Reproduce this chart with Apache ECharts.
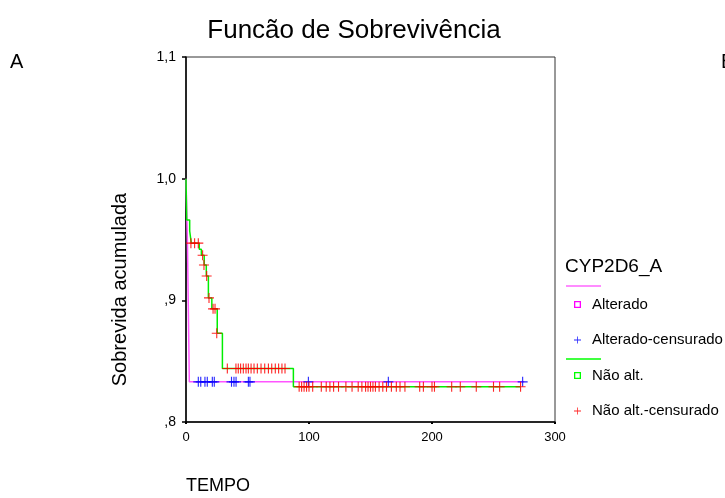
<!DOCTYPE html>
<html>
<head>
<meta charset="utf-8">
<script src="https://cdn.jsdelivr.net/npm/echarts@6/dist/echarts.min.js"></script>
<style>
  html, body { margin: 0; padding: 0; background: #fff; }
  #chart { width: 725px; height: 498px; }
</style>
</head>
<body>
<div id="chart"></div>
<script>
// curvas de Kaplan-Meier (tempo, sobrevida)
var alteradoTempo = [0, 1.2, 2.7, 275];
var alteradoSobrev = [1.0, 0.946, 0.833, 0.833];
var alteradoCensTempo = [10, 12, 15.4, 17.3, 21.4, 23, 37, 39, 40.7, 50.7, 52, 99.5, 164.5, 273.7];
var alteradoCensSobrev = 0.833;

var naoAltTempo = [0, 0.6, 3.0, 4.3, 10.8, 12.5, 14.8, 16.5, 18.2, 21, 25.4, 29.6, 87.3, 272];
var naoAltSobrev = [1.0, 0.966, 0.957, 0.947, 0.942, 0.937, 0.929, 0.920, 0.902, 0.893, 0.873, 0.844, 0.829, 0.829];

// censurados do grupo "Não alt." (inicio, patamar ,844 e patamar ,829)
var naoAltCens1Tempo = [4, 7, 10, 13.5, 14.6, 16.8, 18.7, 22, 23.6, 25];
var naoAltCens1Sobrev = [0.947, 0.947, 0.947, 0.937, 0.929, 0.920, 0.902, 0.893, 0.893, 0.873];
var naoAltCens2Tempo = [33.6, 40.6, 42.5, 44.4, 46.6, 48.8, 50.7, 52.9, 55.3, 58, 61, 64, 67, 69.7, 72.6, 75.3, 78, 80.5];
var naoAltCens2Sobrev = 0.844;
var naoAltCens3Tempo = [92, 94, 96, 98, 100, 103, 110, 114, 117, 120, 124, 130, 135, 140, 143, 146, 148, 150, 152, 154,
  157, 160, 163, 167, 171, 174, 178, 190, 193, 200, 202, 216, 223, 236, 250, 255, 272];
var naoAltCens3Sobrev = 0.829;

var yTicks = [0.8, 0.9, 1.0, 1.1];
var xTicks = [0, 100, 200, 300];

var fonte = 'Arial, "Liberation Sans", sans-serif';
var cruz = 'path://M4,0H5V4H9V5H5V9H4V5H0V4H4Z';
var quadrado = 'path://M0,0H7V7H0Z M1.3,1.3V5.7H5.7V1.3Z';

function pares(ts, ys) {
  return ts.map(function (t, i) {
    return [t, Array.isArray(ys) ? ys[i] : ys];
  });
}

var chart = echarts.init(document.getElementById('chart'));
var option = {
  backgroundColor: '#fff',
  animation: false,
  textStyle: { fontFamily: fonte },
  title: [
    { text: 'Funcão de Sobrevivência', left: 349, top: 13, textAlign: 'center',
      textStyle: { fontFamily: fonte, fontSize: 26, fontWeight: 'normal', color: '#000' } },
    { text: 'A', left: 5, top: 47, textStyle: { fontFamily: fonte, fontSize: 20, fontWeight: 'normal', color: '#000' } },
    { text: 'B', left: 716, top: 47, textStyle: { fontFamily: fonte, fontSize: 20, fontWeight: 'normal', color: '#000' } },
    { text: 'TEMPO', left: 181, top: 472, textStyle: { fontFamily: fonte, fontSize: 18, fontWeight: 'normal', color: '#000' } },
    { text: 'CYP2D6_A', left: 560, top: 252, textStyle: { fontFamily: fonte, fontSize: 19, fontWeight: 'normal', color: '#000' } }
  ],
  graphic: [
    { type: 'line', shape: { x1: 566, y1: 286, x2: 601, y2: 286 }, style: { stroke: '#ff66ff', lineWidth: 1.5 } },
    { type: 'line', shape: { x1: 566, y1: 359, x2: 601, y2: 359 }, style: { stroke: '#00ff00', lineWidth: 1.5 } }
  ],
  legend: {
    orient: 'vertical',
    left: 574,
    top: 297,
    padding: 0,
    itemWidth: 7,
    itemHeight: 7,
    itemGap: 20.5,
    textStyle: { fontFamily: fonte, fontSize: 15, color: '#000', padding: [0, 0, 0, 6] },
    data: [
      { name: 'Alterado', icon: quadrado, itemStyle: { color: '#ff00ff' } },
      { name: 'Alterado-censurado', icon: cruz, itemStyle: { color: '#0000ff' } },
      { name: 'Não alt.', icon: quadrado, itemStyle: { color: '#00ff00' } },
      { name: 'Não alt.-censurado', icon: cruz, itemStyle: { color: '#ff0000' } }
    ]
  },
  grid: {
    left: 186, top: 57, right: 170, bottom: 76,
    show: true, borderColor: '#333', borderWidth: 1
  },
  xAxis: {
    type: 'value',
    min: xTicks[0], max: xTicks[xTicks.length - 1], interval: 100,
    splitLine: { show: false },
    axisLine: { lineStyle: { color: '#000', width: 1.5 } },
    axisTick: { length: 2, lineStyle: { color: '#000', width: 2 } },
    axisLabel: { color: '#000', fontSize: 13, margin: 9, fontFamily: fonte }
  },
  yAxis: {
    type: 'value',
    min: yTicks[0], max: yTicks[yTicks.length - 1], interval: 0.1,
    name: 'Sobrevida acumulada',
    nameLocation: 'middle',
    nameGap: 56,
    nameTextStyle: { color: '#000', fontSize: 20, fontFamily: fonte, padding: [0, 100, 0, 0] },
    splitLine: { show: false },
    axisLine: { show: true, lineStyle: { color: '#000', width: 1.5 } },
    axisTick: { show: true, length: 4, lineStyle: { color: '#000', width: 1.5 } },
    axisLabel: {
      color: '#000', fontSize: 14, margin: 10, fontFamily: fonte,
      formatter: function (v) { return v.toFixed(1).replace('.', ',').replace(/^0/, ''); }
    }
  },
  series: [
    {
      name: 'Alterado', type: 'line', step: 'end', symbol: 'none',
      lineStyle: { color: '#ff55ff', width: 1.5 }, itemStyle: { color: '#ff00ff' },
      data: pares(alteradoTempo, alteradoSobrev), z: 2
    },
    {
      name: 'Não alt.', type: 'line', step: 'end', symbol: 'none',
      lineStyle: { color: '#00ee00', width: 1.5 }, itemStyle: { color: '#00ff00' },
      data: pares(naoAltTempo, naoAltSobrev), z: 3
    },
    {
      name: 'Alterado-censurado', type: 'scatter', symbol: cruz, symbolSize: 10,
      itemStyle: { color: '#0000ff', opacity: 0.85 },
      data: pares(alteradoCensTempo, alteradoCensSobrev), z: 4
    },
    {
      name: 'Não alt.-censurado', type: 'scatter', symbol: cruz, symbolSize: 10,
      itemStyle: { color: '#ff0000', opacity: 0.85 },
      data: pares(naoAltCens1Tempo, naoAltCens1Sobrev)
        .concat(pares(naoAltCens2Tempo, naoAltCens2Sobrev))
        .concat(pares(naoAltCens3Tempo, naoAltCens3Sobrev)),
      z: 5
    }
  ]
};
chart.setOption(option);
</script>
</body>
</html>
